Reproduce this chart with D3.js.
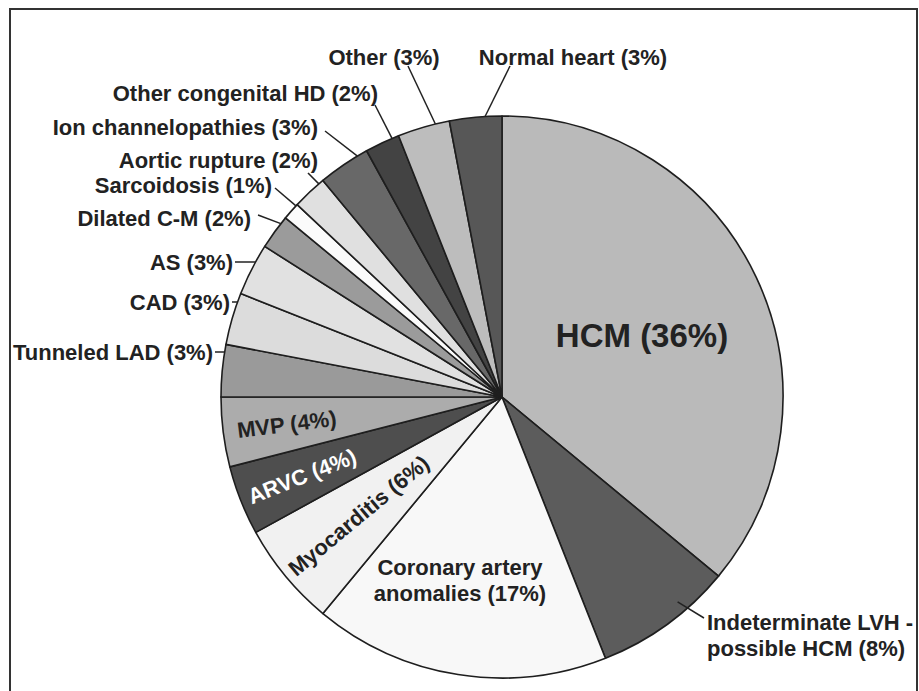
<!DOCTYPE html>
<html>
<head>
<meta charset="utf-8">
<script src="https://cdn.jsdelivr.net/npm/d3@7"></script>
<style>
  html, body { margin: 0; padding: 0; background: #fff; }
  svg { display: block; }
  text { font-family: "Liberation Sans", Arial, sans-serif; font-weight: bold; fill: #222; }
</style>
</head>
<body>
<svg id="chart" width="919" height="691"></svg>
<script>
// Causes of sudden death, share of cases (%), clockwise from 12 o'clock
const categories = [
  "HCM", "Indeterminate LVH - possible HCM", "Coronary artery anomalies", "Myocarditis",
  "ARVC", "MVP", "Tunneled LAD", "CAD", "AS", "Dilated C-M", "Sarcoidosis",
  "Aortic rupture", "Ion channelopathies", "Other congenital HD", "Other", "Normal heart"
];
const shares = [36, 8, 17, 6, 4, 4, 3, 3, 3, 2, 1, 2, 3, 2, 3, 3];
const fills = [
  "#bababa", "#5c5c5c", "#f8f8f8", "#f1f1f1",
  "#4e4e4e", "#acacac", "#9a9a9a", "#dcdcdc", "#e1e1e1", "#9b9b9b", "#fbfbfb",
  "#e0e0e0", "#686868", "#434343", "#bdbdbd", "#575757"
];

// Label layout: kind "out" = outside with leader, "in" = inside horizontal,
// "rot" = inside rotated along the radius. af = where along the slice the leader lands.
const labelLayout = [
  { kind: "in",  lines: ["HCM (36%)"], x: 642, y: 335, size: 33, anchor: "middle" },
  { kind: "out", lines: ["Indeterminate LVH -", "possible HCM (8%)"], x: 707, y: 622, anchor: "start",
    lx: 704, ly: 618, rr: 0.96, af: 0.34 },
  { kind: "in",  lines: ["Coronary artery", "anomalies (17%)"], x: 460, y: 567, anchor: "middle" },
  { kind: "rot", lines: ["Myocarditis (6%)"], rr: 186 },
  { kind: "rot", lines: ["ARVC (4%)"], rr: 215, color: "#fff" },
  { kind: "rot", lines: ["MVP (4%)"], rr: 217 },
  { kind: "out", lines: ["Tunneled LAD (3%)"], x: 213, y: 352, anchor: "end", lx: 215, ly: 352, flat: true },
  { kind: "out", lines: ["CAD (3%)"], x: 230, y: 302, anchor: "end", lx: 232, ly: 302, flat: true },
  { kind: "out", lines: ["AS (3%)"], x: 233, y: 262, anchor: "end", lx: 235, ly: 262, flat: true },
  { kind: "out", lines: ["Dilated C-M (2%)"], x: 251, y: 218, anchor: "end", lx: 258, ly: 215, af: 0.79 },
  { kind: "out", lines: ["Sarcoidosis (1%)"], x: 272, y: 185, anchor: "end", lx: 275, ly: 188, af: 0.9 },
  { kind: "out", lines: ["Aortic rupture (2%)"], x: 318, y: 160, anchor: "end", lx: 308, ly: 173, af: 0.85 },
  { kind: "out", lines: ["Ion channelopathies (3%)"], x: 318, y: 127, anchor: "end", lx: 325, ly: 131, af: 0.8 },
  { kind: "out", lines: ["Other congenital HD (2%)"], x: 378, y: 93, anchor: "end", lx: 375, ly: 105, af: 0.8 },
  { kind: "out", lines: ["Other (3%)"], x: 384, y: 57, anchor: "middle", lx: 408, ly: 66, af: 0.73 },
  { kind: "out", lines: ["Normal heart (3%)"], x: 573, y: 57, anchor: "middle", lx: 510, ly: 66, af: 0.68 }
];

const svg = d3.select("#chart");
const cx = 502, cy = 397, R = 281;

// frame around the figure
svg.append("rect")
  .attr("x", 10).attr("y", 9).attr("width", 907).attr("height", 720)
  .attr("fill", "none").attr("stroke", "#333").attr("stroke-width", 2);

const pie = d3.pie().sort(null).value(d => d);
const arcs = pie(shares);
const arc = d3.arc().innerRadius(0).outerRadius(R);

const g = svg.append("g").attr("transform", `translate(${cx},${cy})`);

g.selectAll("path.slice")
  .data(arcs)
  .join("path")
  .attr("class", "slice")
  .attr("d", arc)
  .attr("fill", (d, i) => fills[i])
  .attr("stroke", "#1e1e1e")
  .attr("stroke-width", 1.6)
  .attr("stroke-linejoin", "round");

const lines = svg.append("g");
const labels = svg.append("g");

arcs.forEach((a, i) => {
  const L = labelLayout[i];
  const size = L.size || 22;
  if (L.kind === "rot") {
    const mid = (a.startAngle + a.endAngle) / 2;
    const px = cx + L.rr * Math.sin(mid);
    const py = cy - L.rr * Math.cos(mid);
    const deg = mid * 180 / Math.PI - 270;
    labels.append("text")
      .attr("transform", `translate(${px},${py}) rotate(${deg})`)
      .attr("text-anchor", "middle")
      .attr("dy", "0.35em")
      .style("font-size", size + "px")
      .style("fill", L.color || "#222")
      .text(L.lines[0]);
    return;
  }
  if (L.kind === "out") {
    let ex, ey;
    if (L.flat) {
      // horizontal leader meeting the rim at the label's height
      ey = L.ly;
      ex = cx - Math.sqrt(R * R - (cy - ey) * (cy - ey));
    } else {
      const frac = L.af != null ? L.af : 0.5;
      const ang = a.startAngle + (a.endAngle - a.startAngle) * frac;
      const rr = (L.rr || 1) * R;
      ex = cx + rr * Math.sin(ang);
      ey = cy - rr * Math.cos(ang);
    }
    lines.append("line")
      .attr("x1", L.lx).attr("y1", L.ly)
      .attr("x2", ex).attr("y2", ey)
      .attr("stroke", "#222").attr("stroke-width", 1.5);
  }
  L.lines.forEach((t, k) => {
    labels.append("text")
      .attr("x", L.x)
      .attr("y", L.y + k * 26)
      .attr("dy", "0.35em")
      .attr("text-anchor", L.anchor)
      .style("font-size", size + "px")
      .text(t);
  });
});
</script>
</body>
</html>
